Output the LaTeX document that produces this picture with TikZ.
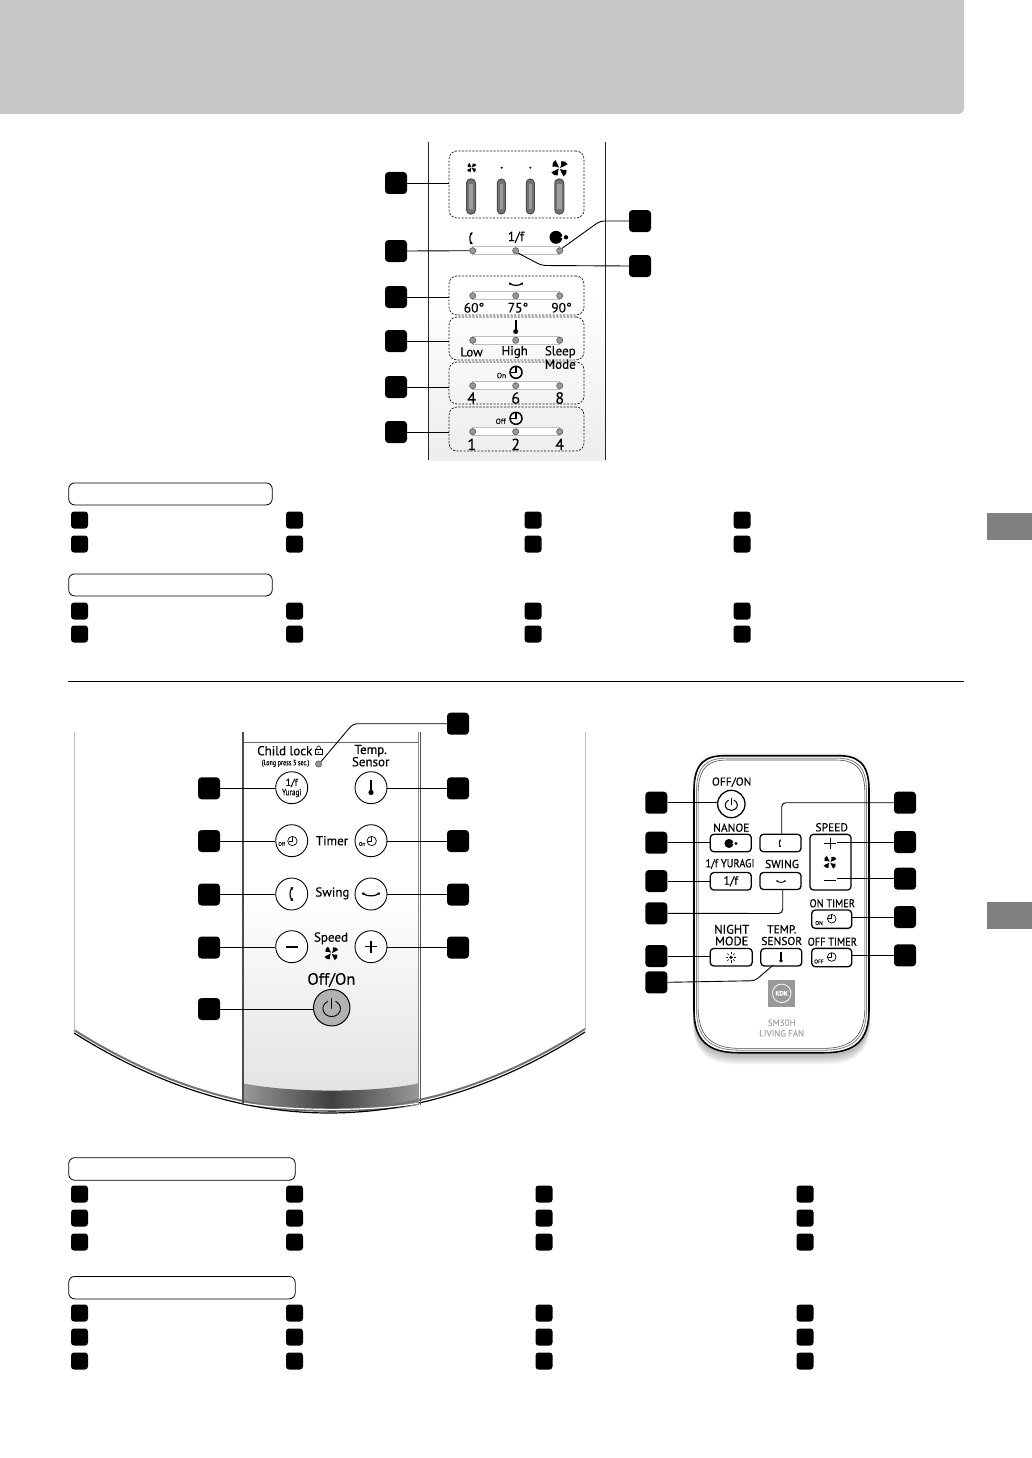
\documentclass[tikz,border=0pt]{standalone}
\usepackage{fontspec}
\setmainfont{PT Sans}[RawFeature={embolden=0.35}]
\usetikzlibrary{arrows.meta,calc}
\definecolor{headgray}{gray}{0.78}
\definecolor{tabgray}{gray}{0.5}
\definecolor{railgray}{gray}{0.75}
\definecolor{ledgray}{gray}{0.6}
\tikzset{
  tag/.style={fill=black,rounded corners=3.5pt,minimum width=22pt,minimum height=22pt,inner sep=0pt},
  smalltag/.style={fill=black,rounded corners=3pt,minimum width=17pt,minimum height=17pt,inner sep=0pt},
  sect/.style={draw=black,fill=white,line width=0.8pt,rounded corners=6pt,inner sep=0pt,anchor=north west},
  lead/.style={draw=black,line width=0.9pt,rounded corners=4pt},
  dashbox/.style={draw=black!90,dashed,dash pattern=on 2.2pt off 1.3pt,line width=0.7pt,rounded corners=8pt,inner sep=0pt,minimum width=135pt},
  rail/.style={draw=railgray,fill=white,line width=0.8pt},
  led/.style={circle,draw=gray!70!black,fill=ledgray,line width=0.6pt,minimum size=6.2pt,inner sep=0pt},
  ledbar/.style={draw=black!70,fill=black!55,line width=1pt,rounded corners=4pt,minimum width=8.5pt,minimum height=35pt,inner sep=0pt},
  ledcore/.style={fill=black!38,minimum width=4pt,minimum height=24pt,inner sep=0pt},
  lbl/.style={inner sep=0pt,font=\fontsize{13}{13}\selectfont},
  lblbig/.style={inner sep=0pt,font=\fontsize{16}{16}\selectfont},
  lblsm/.style={inner sep=0pt,font=\fontsize{11.5}{11.5}\selectfont},
  tiny/.style={inner sep=0pt,font=\fontsize{6.5}{6.5}\selectfont},
  rndbtn/.style={circle,draw=black,fill=white,line width=0.9pt,minimum size=32pt,inner sep=0pt},
  keybtn/.style={draw=black,fill=white,line width=1.3pt,rounded corners=3.5pt,minimum width=41pt,minimum height=17.5pt,inner sep=0pt},
  fan/.pic={
    \foreach \a in {45,135,225,315}{
      \fill[rotate=\a] (0.8,0.2) .. controls (3,-0.5) and (5,-2) .. (6.5,-4) .. controls (9,-2.5) and (10,0.5) .. (9,3) .. controls (6,2.2) and (3,1.2) .. (0.8,0.2) -- cycle;
    }
  },
  clockicon/.pic={
    \draw (0,0) circle (6);
    \draw (0,-5.5) -- (0,0) -- (-5,0);
  },
  swingv/.pic={
    \draw[line width=1.2pt,{Latex[length=2.8pt,width=3.4pt]}-{Latex[length=2.8pt,width=3.4pt]}] (1.6,-6.5) .. controls (-1.8,-3) and (-1.8,3) .. (1.6,6.5);
  },
  swingh/.pic={
    \draw[line width=1.2pt,{Latex[length=2.8pt,width=3.4pt]}-{Latex[length=2.8pt,width=3.4pt]}] (-7.5,-1.5) .. controls (-3,1.8) and (3,1.8) .. (7.5,-1.5);
  },
  swinghs/.pic={
    \draw[line width=0.9pt,{Latex[length=1.6pt,width=2.2pt]}-{Latex[length=1.6pt,width=2.2pt]}] (-4.8,-1) .. controls (-2,1.4) and (2,1.4) .. (4.8,-1);
  },
  swingvs/.pic={
    \draw[line width=0.9pt,{Latex[length=1.6pt,width=2.2pt]}-{Latex[length=1.6pt,width=2.2pt]}] (0.9,-3.8) .. controls (-1,-1.8) and (-1,1.8) .. (0.9,3.8);
  },
  thermo/.pic={
    \fill (-1.2,-7) rectangle (1.2,4);
    \fill (0,4.5) circle (2.5);
  },
  nanoe/.pic={
    \fill (0,0) circle (6.5);
    \fill[white] (4.5,0) -- (7.2,-1.3) -- (7.2,1.3) -- cycle;
    \fill (10,0) circle (2.2);
  },
  power/.pic={
    \draw (3.9,-7.2) .. controls (9.6,-4.4) and (10.4,2) .. (6.2,5.8) .. controls (2.8,8.8) and (-2.8,8.8) .. (-6.2,5.8) .. controls (-10.4,2) and (-9.6,-4.4) .. (-3.9,-7.2);
    \draw (0,-11) -- (0,0);
  },
  sunicon/.pic={
    \fill (0,0) circle (1.8);
    \foreach \a in {0,45,...,315}{\draw[line width=0.6pt,rotate=\a] (3,0) -- (5.2,0);}
  },
  lockicon/.pic={
    \draw[line width=0.6pt] (-3.5,-1) rectangle (3.5,4);
    \draw[line width=0.6pt] (-2.2,-1) .. controls (-2.2,-6) and (2.2,-6) .. (2.2,-1);
    \fill (0,1.5) circle (0.8);
  },
  remoteshape/.pic={
    \path[pic actions] (-87.5,-114) .. controls (-87.5,-142) and (-75.5,-148.5) .. (-56.5,-148.5) -- (56.5,-148.5) .. controls (75.5,-148.5) and (87.5,-142) .. (87.5,-114) -- (87.5,106) .. controls (87.5,136) and (73.5,148.5) .. (43.5,148.5) -- (-43.5,148.5) .. controls (-73.5,148.5) and (-87.5,136) .. (-87.5,106) -- cycle;
  },
}
\begin{document}
\begin{tikzpicture}[x=1pt,y=-1pt]
\useasboundingbox (0,0) rectangle (1032,1458);
% header and tabs
\fill[headgray] (0,0) -- (964,0) [rounded corners=6pt] -- (964,114) [sharp corners] -- (0,114) -- cycle;
\fill[tabgray] (987,513) rectangle (1032,540);
\fill[tabgray] (987,902) rectangle (1032,929);
\draw[black,line width=0.8pt] (68,681.5) -- (964,681.5);

% ---- top panel ----
\shade[top color=white,bottom color=black!7] (429,290) rectangle (605.5,460);
\draw[black!85,line width=0.9pt] (428.5,142) -- (428.5,460);
\draw[black!85,line width=0.9pt] (605.5,142) -- (605.5,460);
\node[dashbox,minimum height=67pt,fill=none] (bA) at (516.5,184.5) {};
\node[dashbox,minimum height=39pt] (bC) at (516.5,295.5) {};
\node[dashbox,minimum height=43pt] (bD) at (516.5,338.5) {};
\node[dashbox,minimum height=42pt] (bE) at (516.5,383) {};
\node[dashbox,minimum height=44pt] (bF) at (516.5,429) {};
\pic at (471.7,167.7) [scale=0.55] {fan};
\fill (501.7,167.7) circle (1.1);
\fill (530.3,167.7) circle (1.1);
\pic at (559.5,168.3) [scale=0.95] {fan};
\foreach \n/\x/\w in {1/471/9,2/501.3/8,3/530.3/8,4/559.3/9}{
  \node[ledbar,minimum width=\w pt] (bar\n) at (\x,196.5) {};
  \node[ledcore,minimum width=\w pt - 4.5pt] at (bar\n.center) {};
}
\foreach \y in {250.7,295.7,340.3,385.7,431.7}{
  \draw[rail] (472.7,\y-4) rectangle (559.7,\y+4);
}
\pic at (471.2,238.3) [scale=0.95] {swingv};
\node[lbl,font=\fontsize{13.5}{13.5}\selectfont] (lf) at (516,237.3) {1/f};
\pic at (556,237.3) {nanoe};
\node[led] (d1a) at (472.7,250.7) {};
\node[led] (d1b) at (515.7,250.7) {};
\node[led] (d1c) at (559.7,250.7) {};
\pic at (516,284) {swingh};
\node[led] (d2a) at (472.7,295.7) {};
\node[led] (d2b) at (515.7,295.7) {};
\node[led] (d2c) at (559.7,295.7) {};
\node[lbl,font=\fontsize{13.5}{13.5}\selectfont] at (474,307.7) {60°};
\node[lbl,font=\fontsize{13.5}{13.5}\selectfont] at (518,307.7) {75°};
\node[lbl,font=\fontsize{13.5}{13.5}\selectfont] at (561.5,307.7) {90°};
\pic at (515.7,327) {thermo};
\node[led] (d3a) at (472.7,340.3) {};
\node[led] (d3b) at (515.7,340.3) {};
\node[led] (d3c) at (559.7,340.3) {};
\node[lbl] at (471.5,352) {Low};
\node[lbl] at (514.7,352) {High};
\node[lbl] at (560.3,352) {Sleep};
\node[lbl] at (560.3,364.3) {Mode};
\pic at (516,372.3) [line width=1.5pt] {clockicon};
\node[tiny,font=\fontsize{7.5}{7.5}\selectfont] at (501.5,375.5) {On};
\node[led] (d4a) at (472.7,385.7) {};
\node[led] (d4b) at (515.7,385.7) {};
\node[led] (d4c) at (559.7,385.7) {};
\node[lblbig] at (471.7,398) {4};
\node[lblbig] at (515.7,398) {6};
\node[lblbig] at (559.7,398) {8};
\pic at (516,418.3) [line width=1.5pt] {clockicon};
\node[tiny,font=\fontsize{7.5}{7.5}\selectfont] at (500.7,421.3) {Off};
\node[led] (d5a) at (472.7,431.7) {};
\node[led] (d5b) at (515.7,431.7) {};
\node[led] (d5c) at (559.7,431.7) {};
\node[lblbig] at (471.7,444.3) {1};
\node[lblbig] at (515.7,444.3) {2};
\node[lblbig] at (559.7,444.3) {4};
\node[tag] (tA) at (396,183) {};
\node[tag] (tB) at (396,251) {};
\node[tag] (tC) at (396,297) {};
\node[tag] (tD) at (396,341) {};
\node[tag] (tE) at (396,387) {};
\node[tag] (tF) at (396,432) {};
\node[tag] (tG) at (640,221) {};
\node[tag] (tH) at (640,266) {};
\draw[lead] (tA.east) -- (tA.east -| bA.west);
\draw[lead] (tB.east) -- (d1a.west);
\draw[lead] (tC.east) -- (tC.east -| bC.west);
\draw[lead] (tD.east) -- (tD.east -| bD.west);
\draw[lead] (tE.east) -- (tE.east -| bE.west);
\draw[lead] (tF.east) -- (tF.east -| bF.west);
\coordinate (kG) at (600,221);
\coordinate (kH) at (541.7,265.5);
\draw[lead] (tG.west) -- (kG) -- (d1c.north east);
\draw[lead] (tH.west) -- (kH) -- (d1b.south east);

% ---- section labels, upper ----
\node[sect,minimum width=203.5pt,minimum height=22pt] (s1) at (68.3,482.5) {};
\node[sect,minimum width=203.5pt,minimum height=22pt] (s2) at (68.3,573.5) {};
\foreach \x in {79.5,294.5,533,742}{
  \foreach \y in {520,544,611,634}{
    \node[smalltag] (u\x-\y) at (\x,\y) {};
  }
}
% ---- section labels, lower ----
\node[sect,minimum width=226.5pt,minimum height=22.5pt] (s3) at (68.3,1157.3) {};
\node[sect,minimum width=226.5pt,minimum height=22.5pt] (s4) at (68.3,1276) {};
\foreach \x in {79.5,294.5,544,805}{
  \foreach \y in {1194,1218,1242,1313,1337,1361}{
    \node[smalltag] (l\x-\y) at (\x,\y) {};
  }
}

% ---- front panel ----
\shade[top color=white,bottom color=black!11] (243,895) rectangle (419,1095);
\draw[black!60,line width=0.6pt] (243,742.7) -- (419,742.7);
\shade[left color=black!40,right color=black!40,middle color=black!75]
  (242.8,1083.3) .. controls (290,1093) and (375,1093) .. (418.6,1083.3) -- (418.6,1105)
  .. controls (375,1114) and (290,1114) .. (242.8,1105) -- cycle;
\draw[black!55,line width=2pt] (74,1030) .. controls (244,1136.8) and (415,1136.8) .. (585,1029);
\draw[black,line width=1.2pt] (74,1033) .. controls (244,1139.8) and (415,1139.8) .. (585,1032);
\draw[white,line width=1.2pt] (243,1103) .. controls (290,1111.5) and (375,1111.5) .. (419,1103);
\draw[black!25,line width=0.5pt] (73.8,732) -- (73.8,1031);
\draw[black!25,line width=0.5pt] (585,732) -- (585,1030);
\draw[black!70,line width=1.2pt] (243,732) -- (243,1105);
\draw[black!45,line width=0.9pt] (418.6,732) -- (418.6,1105);
\draw[black!65,line width=0.9pt] (420.8,732) -- (420.8,1105);

\node[lbl] at (284.8,750.7) {Child lock};
\pic at (318.6,750.7) {lockicon};
\node[inner sep=0pt] at (285.5,763.3) {\scalebox{0.78}[1]{\fontsize{7.8}{7.8}\selectfont (Long press 3 sec.)}};
\node[led] (dcl) at (318.6,764) {};
\node[lbl] at (370.7,750.7) {Temp.};
\node[lbl] at (370.7,761.7) {Sensor};
\node[lbl] at (332,840.7) {Timer};
\node[lbl] at (332.4,893.3) {Swing};
\node[lbl] at (331,938.3) {Speed};
\pic at (331.4,953.3) [scale=0.8] {fan};
\node[lbl,font=\fontsize{16.5}{16.5}\selectfont] at (331.4,980) {Off/On};

\node[rndbtn] (fa) at (291.7,787.7) {};
\node[rndbtn] (fb) at (291.7,840.7) {};
\node[rndbtn] (fc) at (291.7,894) {};
\node[rndbtn] (fd) at (291.7,946.7) {};
\node[rndbtn] (fe) at (371,787.7) {};
\node[rndbtn] (ff) at (371,840.7) {};
\node[rndbtn] (fg) at (371,894) {};
\node[rndbtn] (fh) at (371,946.7) {};
\node[circle,draw=black,fill=black!30,line width=1pt,minimum size=36.5pt,inner sep=0pt] (fi) at (331.7,1007.7) {};
\pic at (331.7,1008.5) [line width=0.9pt] {power};
\node[lblsm,font=\fontsize{10}{10}\selectfont] at (291.7,783) {1/f};
\node[inner sep=0pt] at (291.7,793) {\scalebox{0.8}[1]{\fontsize{9}{9}\selectfont Yuragi}};
\pic at (371,787.7) [scale=1.05] {thermo};
\pic at (292.4,841) [scale=0.78,line width=0.7pt] {clockicon};
\node[tiny,font=\fontsize{5}{5}\selectfont] at (281.7,844) {Off};
\pic at (371.7,841) [scale=0.78,line width=0.7pt] {clockicon};
\node[tiny,font=\fontsize{5}{5}\selectfont] at (362,844) {On};
\pic at (291.5,894) [scale=1.1] {swingv};
\pic at (371,894.3) [scale=1.25] {swingh};
\draw[line width=1.6pt] (285.7,946.7) -- (297.7,946.7);
\draw[line width=1.2pt] (365,946.7) -- (377,946.7) (371,940.7) -- (371,952.7);

\node[tag] (ta) at (209,788.3) {};
\node[tag] (tb) at (209,841) {};
\node[tag] (tc) at (209,894.5) {};
\node[tag] (td) at (209,947.5) {};
\node[tag] (ti) at (209,1009) {};
\node[tag] (te) at (458,788.3) {};
\node[tag] (tf) at (458,841) {};
\node[tag] (tg) at (458,894.5) {};
\node[tag] (th) at (458,947.5) {};
\node[tag] (tj) at (458,723.7) {};
\draw[lead] (ta.east) -- (ta.east -| fa.west);
\draw[lead] (tb.east) -- (tb.east -| fb.west);
\draw[lead] (tc.east) -- (tc.east -| fc.west);
\draw[lead] (td.east) -- (td.east -| fd.west);
\draw[lead] (ti.east) -- (ti.east -| fi.west);
\draw[lead] (te.west) -- (te.west -| fe.east);
\draw[lead] (tf.west) -- (tf.west -| ff.east);
\draw[lead] (tg.west) -- (tg.west -| fg.east);
\draw[lead] (th.west) -- (th.west -| fh.east);
\coordinate (kj) at (353,723.7);
\draw[lead] (tj.west) -- (kj) -- (dcl.north east);

% ---- remote ----
\foreach \s in {-1.5,0,1.5,3,4.5,6,7.5,9,10.5}{
  \pic at (781.5,904.2+\s) [fill=black,opacity=0.045,xscale=1.012,yscale=1.008] {remoteshape};
}
\pic at (781.5,904.2) [draw=black,fill=white,line width=1.6pt] {remoteshape};
\pic at (781.5,904.2) [draw=black!50,line width=0.8pt,xscale=0.972,yscale=0.983] {remoteshape};
\pic at (781.5,904.2) [draw=black!70,line width=0.6pt,xscale=0.953,yscale=0.971] {remoteshape};

\node[lblsm] at (731.7,782.3) {OFF/ON};
\node[circle,draw=black,fill=white,line width=1.3pt,minimum size=27.4pt,inner sep=0pt] (ra) at (731.3,804) {};
\pic at (731.3,805) [scale=0.68,line width=1pt] {power};
\node[lblsm] at (731.3,827.7) {NANOE};
\node[keybtn] (rb) at (730.8,843) {};
\pic at (729,843.5) [scale=0.7] {nanoe};
\node[keybtn] (rf) at (780.5,843) {};
\pic at (780,843.3) {swingvs};
\node[inner sep=0pt] at (730,864) {\scalebox{0.9}[1]{\fontsize{11.5}{11.5}\selectfont 1/f YURAGI}};
\node[keybtn] (rc) at (730.8,881.3) {};
\node[lblsm,font=\fontsize{12}{12}\selectfont] at (730.8,881.3) {1/f};
\node[lblsm] at (782,864) {SWING};
\node[keybtn,minimum height=17pt] (rd) at (780.5,881) {};
\pic at (781,881.3) {swinghs};
\node[lblsm] at (831.7,827.3) {SPEED};
\node[keybtn,minimum height=55.7pt] (rg) at (830.5,862.2) {};
\draw[line width=0.9pt] (824,843.3) -- (836,843.3) (830,837.5) -- (830,849);
\pic at (830,862.3) [scale=0.75] {fan};
\draw[line width=0.9pt] (824,880.7) -- (836,880.7);
\coordinate (rgp) at (837,843.3);
\coordinate (rgm) at (837,880.7);
\node[inner sep=0pt] at (832.3,903.3) {\scalebox{0.9}[1]{\fontsize{11.5}{11.5}\selectfont ON TIMER}};
\node[keybtn,minimum width=40pt,minimum height=18.3pt] (ri) at (831.7,919.2) {};
\pic at (831.7,918.7) [scale=0.72,line width=0.7pt] {clockicon};
\node[tiny,font=\fontsize{5.5}{5.5}\selectfont] at (819,923) {ON};
\node[inner sep=0pt] at (832.3,941.7) {\scalebox{0.9}[1]{\fontsize{11.5}{11.5}\selectfont OFF TIMER}};
\node[keybtn,minimum width=40pt,minimum height=18.3pt] (rj) at (831.7,957.5) {};
\pic at (831.7,957) [scale=0.72,line width=0.7pt] {clockicon};
\node[tiny,font=\fontsize{5.5}{5.5}\selectfont] at (819,961.5) {OFF};
\node[lblsm,font=\fontsize{12.5}{12.5}\selectfont] at (731.7,929.3) {NIGHT};
\node[lblsm,font=\fontsize{12.5}{12.5}\selectfont] at (731.7,941) {MODE};
\node[keybtn,minimum width=42pt] (re) at (731.2,957.2) {};
\pic at (731,957.3) {sunicon};
\node[lblsm] at (781.7,929.3) {TEMP.};
\node[lblsm] at (781.7,941) {SENSOR};
\node[keybtn,minimum width=41pt] (rh) at (781.3,957.2) {};
\pic at (781,957.3) [scale=0.75] {thermo};
\node[fill=black!40,minimum size=26.7pt,inner sep=0pt] (kdk) at (781.7,993.3) {};
\node[circle,draw=white,line width=0.8pt,minimum size=18.5pt,inner sep=0pt,text=white,font=\bfseries\fontsize{6.5}{6.5}\selectfont] at (kdk.center) {KDK};
\node[inner sep=0pt,font=\fontsize{9}{9}\selectfont,text=black!35] at (781.7,1022.7) {SM30H};
\node[inner sep=0pt,font=\fontsize{9}{9}\selectfont,text=black!35] at (781.7,1033.3) {LIVING FAN};

\node[tag] (qa) at (656.3,802.7) {};
\node[tag] (qb) at (656.3,842.7) {};
\node[tag] (qc) at (656.3,881) {};
\node[tag] (qd) at (656.3,913.3) {};
\node[tag] (qe) at (656.3,956) {};
\node[tag] (qh) at (656.3,982.3) {};
\node[tag] (qf) at (905,802.7) {};
\node[tag] (qg) at (905,842) {};
\node[tag] (qk) at (905,878.7) {};
\node[tag] (qi) at (905,917) {};
\node[tag] (qj) at (905,955.3) {};
\draw[lead] (qa.east) -- (qa.east -| ra.west);
\draw[lead] (qb.east) -- (qb.east -| rb.west);
\draw[lead] (qc.east) -- (qc.east -| rc.west);
\coordinate (kd) at (782.7,913.5);
\draw[lead] (qd.east) -- (kd) -- (kd |- rd.south);
\draw[lead] (qe.east) -- (qe.east -| re.west);
\coordinate (kh) at (755,980.7);
\coordinate (kh2) at (773.3,965);
\draw[lead] (qh.east) -- (kh) -- (kh2);
\coordinate (kf) at (781.7,802.7);
\draw[lead] (qf.west) -- (kf) -- (kf |- rf.north);
\draw[lead] (qg.west) -- (qg.west -| rgp);
\draw[lead] (qk.west) -- (qk.west -| rgm);
\draw[lead] (qi.west) -- (qi.west -| ri.east);
\draw[lead] (qj.west) -- (qj.west -| rj.east);
\end{tikzpicture}
\end{document}
